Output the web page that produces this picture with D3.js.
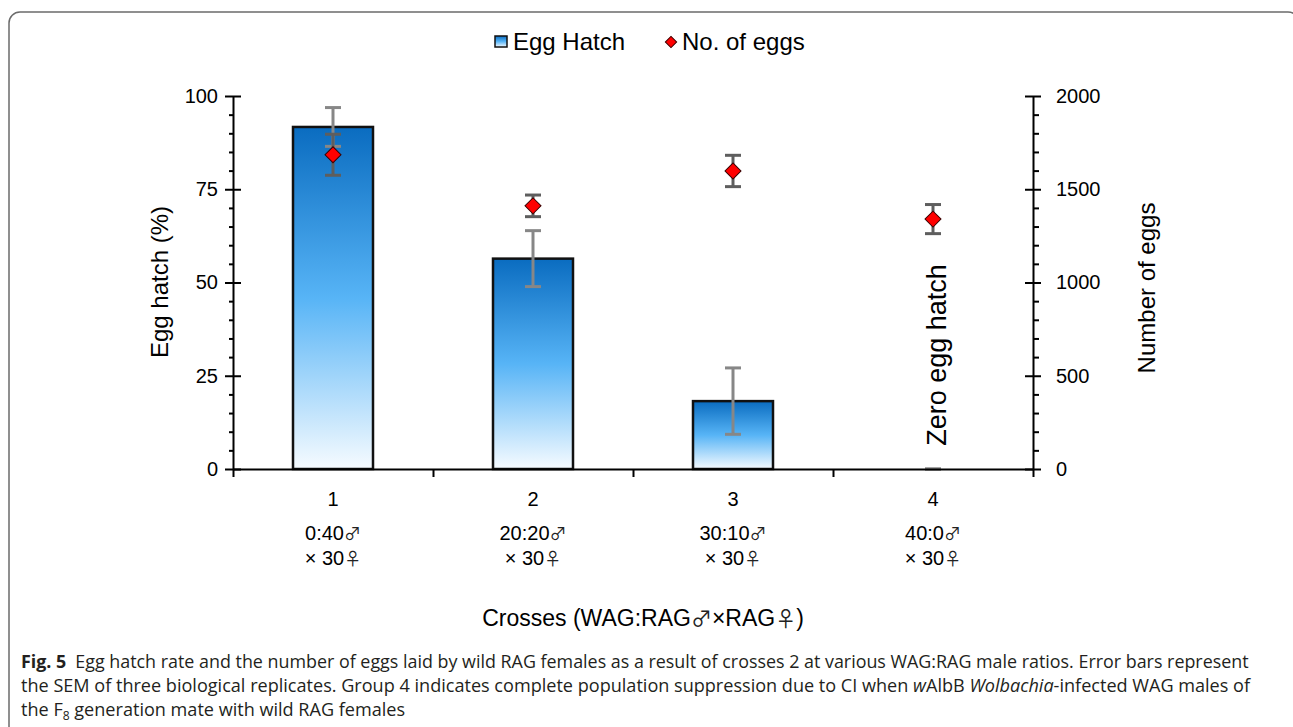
<!DOCTYPE html>
<html>
<head>
<meta charset="utf-8">
<script src="https://cdn.jsdelivr.net/npm/d3@7"></script>
<style>
  body { margin: 0; background: #fff; }
  svg { display: block; }
  text { font-family: "Liberation Sans", Arial, sans-serif; fill: #000; }
  .cap { font-family: "Open Sans", "Noto Sans", sans-serif; fill: #231f20; }
  .sym { font-family: "Noto Sans CJK JP", "DejaVu Sans", sans-serif; fill: #222; }
</style>
</head>
<body>
<div id="vis"></div>
<script>
// data
const groups = ["1", "2", "3", "4"];
const ratioLabels = ["0:40", "20:20", "30:10", "40:0"];
const femaleLabel = "\u00d7 30";
const MALE = "\u2642", FEMALE = "\u2640";
const hatch = [91.7, 56.4, 18.2, 0];
const hatchErr = [5.2, 7.5, 8.9, 0];
const eggs = [1685, 1411, 1598, 1340];
const eggsErr = [110, 58, 84, 78];
const hatchTicks = [0, 25, 50, 75, 100];
const eggTicks = [0, 500, 1000, 1500, 2000];

const W = 1293, H = 727;
const svg = d3.select("#vis").append("svg").attr("width", W).attr("height", H);

// frame round the figure
svg.append("rect")
  .attr("x", 9).attr("y", 12).attr("width", 1290).attr("height", 740)
  .attr("rx", 11).attr("fill", "none").attr("stroke", "#6b6b6b").attr("stroke-width", 1.5);

const defs = svg.append("defs");
const grad = defs.append("linearGradient").attr("id", "barGrad")
  .attr("x1", 0).attr("y1", 0).attr("x2", 0).attr("y2", 1);
grad.append("stop").attr("offset", "0%").attr("stop-color", "#0a6cc0");
grad.append("stop").attr("offset", "50%").attr("stop-color", "#57b4f6");
grad.append("stop").attr("offset", "100%").attr("stop-color", "#f6fbff");

const x = d3.scaleBand().domain(groups).range([233, 1033]);
const xEdge = d3.scaleLinear().domain([0, 4]).range([233, 1033]);
const yL = d3.scaleLinear().domain([0, 100]).range([469, 96]);
const yR = d3.scaleLinear().domain([0, 2000]).range([469, 96]);
const barW = x.bandwidth() * 0.4;
const cx = g => x(g) + x.bandwidth() / 2;

// bars
svg.selectAll("rect.bar")
  .data(groups.filter((g, i) => hatch[i] > 0))
  .enter().append("rect")
  .attr("class", "bar")
  .attr("x", g => cx(g) - barW / 2)
  .attr("y", g => yL(hatch[groups.indexOf(g)]))
  .attr("width", barW)
  .attr("height", g => 469 - yL(hatch[groups.indexOf(g)]))
  .attr("fill", "url(#barGrad)")
  .attr("stroke", "#111").attr("stroke-width", 2.5);

function errBar(g, xc, lo, hi, color) {
  g.append("line").attr("x1", xc).attr("x2", xc).attr("y1", lo).attr("y2", hi)
    .attr("stroke", color).attr("stroke-width", 3);
  [lo, hi].forEach(yy => g.append("line")
    .attr("x1", xc - 8).attr("x2", xc + 8).attr("y1", yy).attr("y2", yy)
    .attr("stroke", color).attr("stroke-width", 3));
}

const errG = svg.append("g");
groups.forEach((g, i) => {
  errBar(errG, cx(g), yL(hatch[i] - hatchErr[i]), yL(hatch[i] + hatchErr[i]), "#878787");
});
groups.forEach((g, i) => {
  errBar(errG, cx(g), yR(eggs[i] - eggsErr[i]), yR(eggs[i] + eggsErr[i]), "#5e5e5e");
});

// diamonds for egg counts
const dia = d3.symbol().type(d3.symbolSquare).size(128);
svg.selectAll("path.egg")
  .data(groups)
  .enter().append("path")
  .attr("class", "egg")
  .attr("d", dia)
  .attr("transform", (g, i) => `translate(${cx(g)},${yR(eggs[i])}) rotate(45)`)
  .attr("fill", "#ff0000").attr("stroke", "#3a0000").attr("stroke-width", 1);

// axes
function styleAxis(sel, fs) {
  sel.selectAll("line").attr("stroke", "#000").attr("stroke-width", 2);
  sel.selectAll("path").attr("stroke", "#000").attr("stroke-width", 2);
  sel.selectAll("text").style("font-size", fs + "px").attr("fill", "#000");
}
const minorL = d3.range(5, 100, 5).filter(v => v % 25);
const minorR = d3.range(100, 2000, 100).filter(v => v % 500);

svg.append("g").attr("transform", "translate(233,0)")
  .call(d3.axisLeft(yL).tickValues(hatchTicks).tickSize(8).tickSizeOuter(0).tickPadding(7))
  .call(styleAxis, 20);
svg.append("g").attr("transform", "translate(233,0)")
  .call(d3.axisRight(yL).tickValues(hatchTicks).tickSize(8).tickFormat(""))
  .call(g => g.select(".domain").remove()).call(styleAxis, 20);
svg.append("g").attr("transform", "translate(233,0)")
  .call(d3.axisLeft(yL).tickValues(minorL).tickSize(4).tickFormat(""))
  .call(g => g.select(".domain").remove()).call(styleAxis, 20);

svg.append("g").attr("transform", "translate(1033,0)")
  .call(d3.axisRight(yR).tickValues(eggTicks).tickSize(8).tickSizeOuter(0).tickPadding(15).tickFormat(d3.format("d")))
  .call(styleAxis, 20);
svg.append("g").attr("transform", "translate(1033,0)")
  .call(d3.axisLeft(yR).tickValues(eggTicks).tickSize(8).tickFormat(""))
  .call(g => g.select(".domain").remove()).call(styleAxis, 20);
svg.append("g").attr("transform", "translate(1033,0)")
  .call(d3.axisRight(yR).tickValues(minorR).tickSize(6).tickFormat(""))
  .call(g => g.select(".domain").remove()).call(styleAxis, 20);

svg.append("g").attr("transform", "translate(0,469)")
  .call(d3.axisBottom(xEdge).tickValues([0, 1, 2, 3, 4]).tickSize(8).tickSizeOuter(0).tickFormat(""))
  .call(styleAxis, 20);

// category labels
const catG = svg.append("g").style("font-size", "20px").attr("text-anchor", "middle");
groups.forEach((g, i) => {
  catG.append("text").attr("x", cx(g)).attr("y", 506).text(g);
  const t1 = catG.append("text").attr("x", cx(g)).attr("y", 540);
  t1.append("tspan").text(ratioLabels[i]);
  t1.append("tspan").attr("class", "sym").style("font-size", "17px").text(MALE);
  const t2 = catG.append("text").attr("x", cx(g)).attr("y", 565);
  t2.append("tspan").text(femaleLabel);
  t2.append("tspan").attr("class", "sym").style("font-size", "17px").text(FEMALE);
});

// axis titles
svg.append("text").attr("transform", "translate(168,282) rotate(-90)")
  .attr("text-anchor", "middle").style("font-size", "24px").text("Egg hatch (%)");
svg.append("text").attr("transform", "translate(1155,288) rotate(-90)")
  .attr("text-anchor", "middle").style("font-size", "24px").text("Number of eggs");
const xt = svg.append("text").attr("x", 643).attr("y", 626)
  .attr("text-anchor", "middle").style("font-size", "23px");
xt.append("tspan").text("Crosses (WAG:RAG");
xt.append("tspan").attr("class", "sym").style("font-size", "21px").text(MALE);
xt.append("tspan").text("\u00d7RAG");
xt.append("tspan").attr("class", "sym").style("font-size", "21px").text(FEMALE);
xt.append("tspan").text(")");

// annotation for group 4
svg.append("text").attr("transform", `translate(${cx("4") + 13},355) rotate(-90)`)
  .attr("text-anchor", "middle").style("font-size", "27px").text("Zero egg hatch");

// legend
const leg = svg.append("g");
leg.append("rect").attr("x", 495).attr("y", 36).attr("width", 12).attr("height", 11)
  .attr("fill", "url(#barGrad)").attr("stroke", "#111").attr("stroke-width", 1.5);
leg.append("text").attr("x", 513).attr("y", 50).style("font-size", "24px").text("Egg Hatch");
leg.append("path").attr("d", d3.symbol().type(d3.symbolSquare).size(64))
  .attr("transform", "translate(671,42) rotate(45)")
  .attr("fill", "#ff0000").attr("stroke", "#3a0000").attr("stroke-width", 1);
leg.append("text").attr("x", 682).attr("y", 50).style("font-size", "24px").text("No. of eggs");

// caption
const capLines = [
  [["Fig. 5", "bold"], ["\u2002Egg hatch rate and the number of eggs laid by wild RAG females as a result of crosses 2 at various WAG:RAG male ratios. Error bars represent", ""]],
  [["the SEM of three biological replicates. Group 4 indicates complete population suppression due to CI when ", ""], ["w", "italic"], ["AlbB ", ""], ["Wolbachia", "italic"], ["-infected WAG males of", ""]],
  [["the F", ""], ["8", "sub"], [" generation mate with wild RAG females", ""]]
];
const capTargets = [1228, 1230, null];
const capY = [668, 692, 716];
let lastScale = 1;
capLines.forEach((parts, li) => {
  const g = svg.append("g");
  const t = g.append("text").attr("class", "cap").attr("x", 0).attr("y", 0).style("font-size", "18px");
  parts.forEach(([s, st]) => {
    const ts = t.append("tspan").text(s);
    if (st === "bold") ts.style("font-weight", "bold");
    if (st === "italic") ts.style("font-style", "italic");
    if (st === "sub") { ts.attr("dy", 4).style("font-size", "12px"); }
    if (st === "" && parts.some(p => p[1] === "sub") && s.startsWith(" ")) ts.attr("dy", -4);
  });
  const w = t.node().getComputedTextLength();
  const k = capTargets[li] ? capTargets[li] / w : lastScale;
  lastScale = k;
  g.attr("transform", `translate(21,${capY[li]}) scale(${k},1)`);
});
</script>
</body>
</html>
